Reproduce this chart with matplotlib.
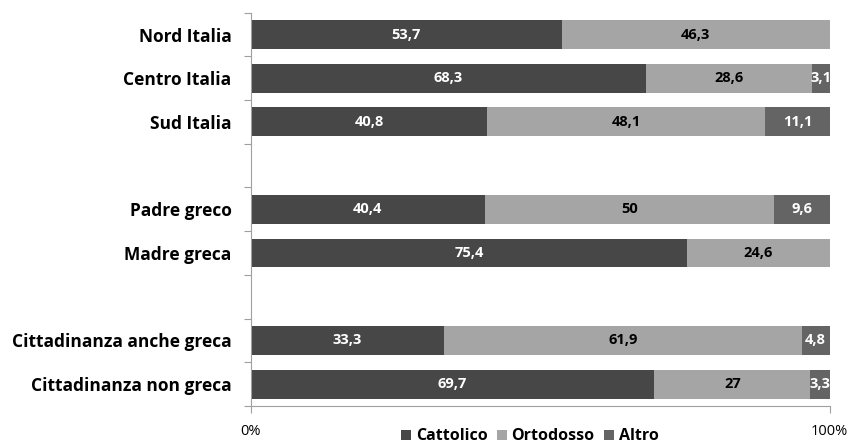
import matplotlib
matplotlib.use("Agg")
import matplotlib.pyplot as plt
import numpy as np

categories = ["Nord Italia", "Centro Italia", "Sud Italia", "",
              "Padre greco", "Madre greca", "",
              "Cittadinanza anche greca", "Cittadinanza non greca"]
cattolico = [53.7, 68.3, 40.8, None, 40.4, 75.4, None, 33.3, 69.7]
ortodosso = [46.3, 28.6, 48.1, None, 50.0, 24.6, None, 61.9, 27.0]
altro = [0.0, 3.1, 11.1, None, 9.6, 0.0, None, 4.8, 3.3]
series_names = ["Cattolico", "Ortodosso", "Altro"]
colors = ["#474747", "#a5a5a5", "#646464"]
text_colors = ["white", "black", "white"]

def fmt(v):
    s = ("%.1f" % v).rstrip("0").rstrip(".")
    return s.replace(".", ",")

plt.rcParams["font.family"] = ["Open Sans", "DejaVu Sans"]
fig = plt.figure(figsize=(8.52, 4.47), dpi=100)
ax = fig.add_axes([0.2946, 0.0917, 0.679, 0.880])

n = len(categories)
y = np.arange(n)
series = [cattolico, ortodosso, altro]
left = np.zeros(n)
for vals, name, col, tc in zip(series, series_names, colors, text_colors):
    v = np.array([0.0 if x is None else x for x in vals])
    ax.barh(y, v, left=left, height=0.66, color=col, label=name,
            edgecolor="none")
    for i, val in enumerate(v):
        if vals[i] is not None and val > 0:
            ax.text(left[i] + val / 2, y[i], fmt(val), ha="center", va="center",
                    color=tc, fontsize=10.5, fontweight="bold")
    left += v

ax.set_ylim(n - 0.5, -0.5)
ax.set_xlim(0, 100)
ax.set_yticks(y)
ax.set_yticklabels(categories, fontsize=12.5, fontweight="bold")
ax.tick_params(axis="y", length=0, pad=14)
ax.set_yticks(np.arange(n + 1) - 0.5, minor=True)
ax.tick_params(axis="y", which="minor", length=5, color="#a0a0a0", width=0.8)
ax.set_xticks([0, 100])
ax.set_xticklabels(["0%", "100%"], fontsize=10.5)
ax.tick_params(axis="x", length=5, color="#a0a0a0", width=0.8, pad=8)
for s in ["top", "right"]:
    ax.spines[s].set_visible(False)
for s in ["left", "bottom"]:
    ax.spines[s].set_color("#a0a0a0")
    ax.spines[s].set_linewidth(0.8)

fig.legend(loc="lower center", bbox_to_anchor=(0.622, -0.026), ncol=3,
           frameon=False, handlelength=0.6, handleheight=0.6,
           handletextpad=0.3, columnspacing=0.6,
           prop={"size": 11.5, "weight": "bold"})

fig.savefig("out.png", dpi=100)
